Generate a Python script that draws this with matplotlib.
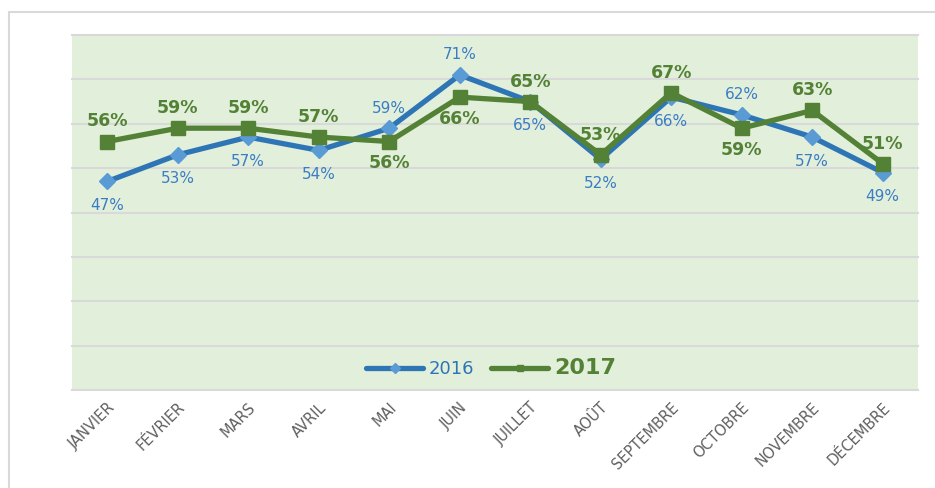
import matplotlib
matplotlib.use("Agg")
import matplotlib.pyplot as plt
from matplotlib.patches import Rectangle
import numpy as np

months = ["JANVIER", "FÉVRIER", "MARS", "AVRIL", "MAI", "JUIN", "JUILLET",
          "AOÛT", "SEPTEMBRE", "OCTOBRE", "NOVEMBRE", "DÉCEMBRE"]
values_2016 = [47, 53, 57, 54, 59, 71, 65, 52, 66, 62, 57, 49]
values_2017 = [56, 59, 59, 57, 56, 66, 65, 53, 67, 59, 63, 51]
series_names = ["2016", "2017"]

# label placement: +1 above marker, -1 below
pos_2016 = [-1, -1, -1, -1, 1, 1, -1, -1, -1, 1, -1, -1]
pos_2017 = [1, 1, 1, 1, -1, -1, 1, 1, 1, -1, 1, 1]

plt.rcParams['font.family'] = ['DejaVu Sans']

fig = plt.figure(figsize=(9.35, 4.88), dpi=100)
fig.patch.set_facecolor("white")

# chart border (partially visible)
fig.add_artist(Rectangle((9/935, -0.2), 2.0, 1.2 - 12/488, transform=fig.transFigure,
                         facecolor="none", edgecolor="#D9D9D9", lw=1.5))

ax = fig.add_axes([72/935, 98/488, 846/935, 355/488])
ax.set_facecolor("#E2EFDA")
x = np.arange(len(months))

blue_line = "#2E75B6"
blue_mark = "#5B9BD5"
green = "#538135"

ax.plot(x, values_2016, color=blue_line, lw=3.8, marker="D", markersize=8.5,
        markerfacecolor=blue_mark, markeredgecolor=blue_mark, zorder=3,
        solid_capstyle="round", label=series_names[0])
ax.plot(x, values_2017, color=green, lw=3.8, marker="s", markersize=9.5,
        markerfacecolor=green, markeredgecolor=green, zorder=4,
        solid_capstyle="round", label=series_names[1])

for i, (v, p) in enumerate(zip(values_2016, pos_2016)):
    off = 20 if p > 0 else -24
    ax.annotate(f"{v}%", (x[i], v), xytext=(0, off), textcoords="offset pixels",
                ha="center", va="center", fontsize=11, color="#3A7DC4", zorder=5)
for i, (v, p) in enumerate(zip(values_2017, pos_2017)):
    off = 20 if p > 0 else -22
    ax.annotate(f"{v}%", (x[i], v), xytext=(0, off), textcoords="offset pixels",
                ha="center", va="center", fontsize=12.5, fontweight="bold",
                color=green, zorder=5)

ax.set_xlim(-0.5, len(months) - 0.5)
ax.set_ylim(0, 80)
ax.set_yticks(np.arange(0, 81, 10))
ax.yaxis.grid(True, color="#D9D9D9", lw=1.5)
for gl in ax.get_ygridlines():
    gl.set_clip_on(False)
ax.set_axisbelow(True)
ax.tick_params(axis="y", left=False, labelleft=False)
ax.tick_params(axis="x", length=0, pad=7)
ax.set_xticks(x)
ax.set_xticklabels(months, rotation=45, ha="right", rotation_mode="anchor",
                   fontsize=10.5, color="#606060")
for s in ax.spines.values():
    s.set_visible(False)

leg = ax.legend(loc="center", bbox_to_anchor=(0.495, 0.062), ncol=2, frameon=False,
                handlelength=3.2, columnspacing=0.9, handletextpad=0.3, fontsize=13)
texts = leg.get_texts()
texts[0].set_color(blue_line)
texts[0].set_fontsize(13)
texts[1].set_color(green)
texts[1].set_fontsize(16)
texts[1].set_fontweight("bold")
for h in leg.legend_handles:
    h.set_markersize(5)

fig.savefig("out.png", dpi=100, facecolor="white")
